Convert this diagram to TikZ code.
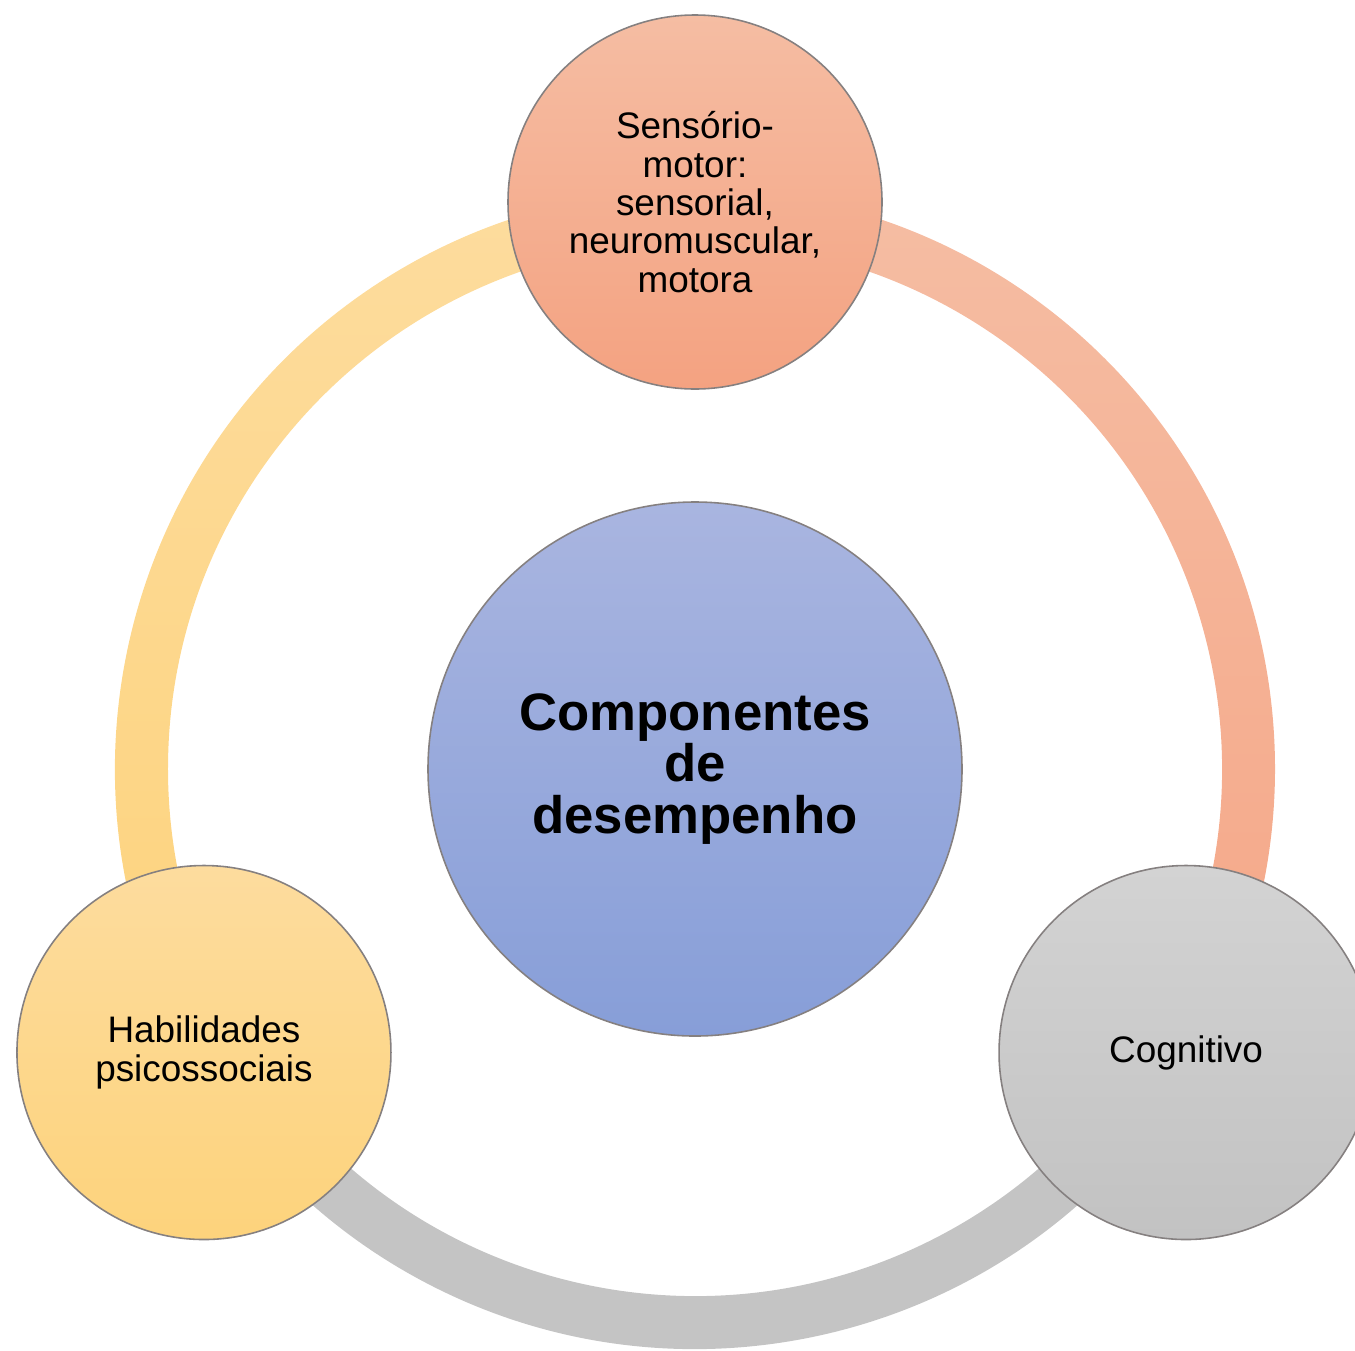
\documentclass[tikz,border=0pt]{standalone}
\usepackage{fontspec}
\setmainfont{Liberation Sans}
\usetikzlibrary{calc}
\pgfdeclarelayer{background}
\pgfdeclarelayer{foreground}
\pgfsetlayers{background,main,foreground}
\definecolor{salmontop}{HTML}{F5BDA3}
\definecolor{salmonbot}{HTML}{F4A281}
\definecolor{bluetop}{HTML}{A9B5E0}
\definecolor{bluebot}{HTML}{879ED8}
\definecolor{yellowtop}{HTML}{FDDC9E}
\definecolor{yellowbot}{HTML}{FDD37C}
\definecolor{greytop}{HTML}{D3D3D3}
\definecolor{greybot}{HTML}{C2C2C2}
\definecolor{ringgrey}{HTML}{C4C4C4}
\definecolor{rimgrey}{HTML}{858080}

\begin{document}
\begin{tikzpicture}[
  bubble/.style={circle,draw=rimgrey,line width=0.45pt,minimum size=3.74cm,inner sep=0pt,
    align=center,font=\fontsize{10.5}{10.9}\selectfont},
  hubbubble/.style={bubble,minimum size=5.34cm,font=\fontsize{15}{14.7}\selectfont\bfseries}
]
\useasboundingbox (-6.95,-5.81) rectangle (6.60,7.69);
\begin{pgfonlayer}{foreground}
\node[hubbubble,top color=bluetop,bottom color=bluebot] (hub) at (0,0) {Componentes\\de\\desempenho};
\node[bubble,top color=salmontop,bottom color=salmonbot] (sens) at (90:5.67)
  {Sensório-\\motor:\\sensorial,\\neuromuscular,\\motora};
\node[bubble,top color=yellowtop,bottom color=yellowbot] (psico) at (210:5.67) {Habilidades\\psicossociais};
\node[bubble,top color=greytop,bottom color=greybot] (cogn) at (-30:5.67) {Cognitivo};
\end{pgfonlayer}
\begin{pgfonlayer}{background}
% ring, one arc per bubble
\shade[top color=salmontop,bottom color=salmonbot!95!white]
  ($(hub)+(90:5.80)$) arc[start angle=90,end angle=-30,radius=5.80]
  -- ($(hub)+(-30:5.27)$) arc[start angle=-30,end angle=90,radius=5.27] -- cycle;
\fill[ringgrey]
  ($(hub)+(-30:5.80)$) arc[start angle=-30,end angle=-150,radius=5.80]
  -- ($(hub)+(-150:5.27)$) arc[start angle=-150,end angle=-30,radius=5.27] -- cycle;
\shade[top color=yellowtop,bottom color=yellowbot]
  ($(hub)+(210:5.80)$) arc[start angle=210,end angle=90,radius=5.80]
  -- ($(hub)+(90:5.27)$) arc[start angle=90,end angle=210,radius=5.27] -- cycle;
\end{pgfonlayer}
\end{tikzpicture}
\end{document}
